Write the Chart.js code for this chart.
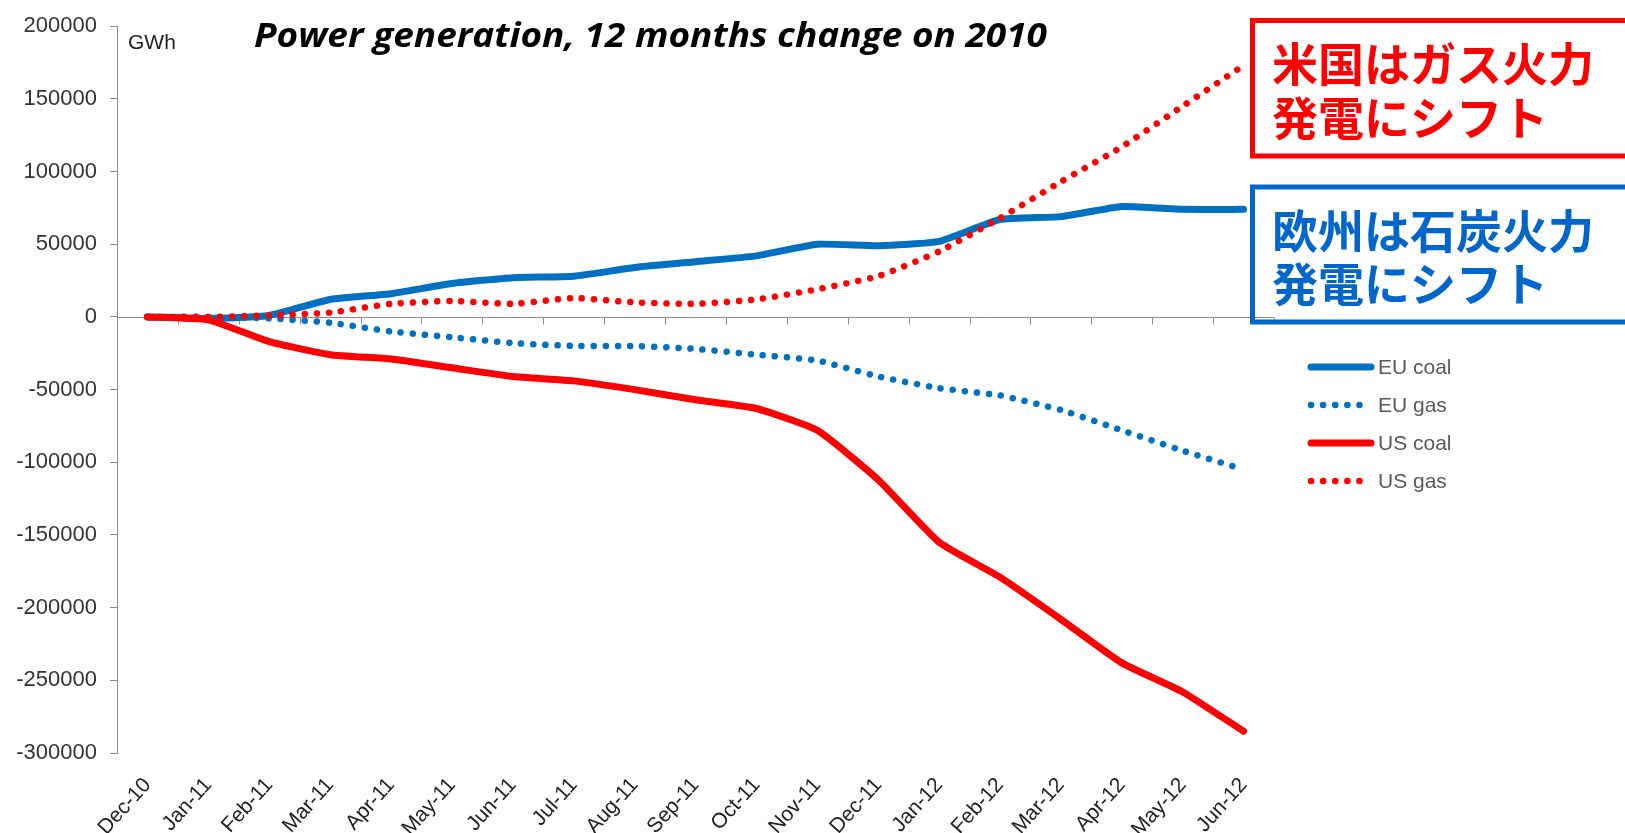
<!DOCTYPE html>
<html>
<head>
<meta charset="utf-8">
<script src="https://cdn.jsdelivr.net/npm/chart.js@4.4.1/dist/chart.umd.min.js"></script>
<style>
  html, body { margin: 0; padding: 0; background: #fff; }
  #wrap { width: 1625px; height: 833px; }
</style>
</head>
<body>
<div id="wrap"><canvas id="powerChart" width="1625" height="833"></canvas></div>
<script>
// months on the x axis
const months = ['Dec-10', 'Jan-11', 'Feb-11', 'Mar-11', 'Apr-11', 'May-11', 'Jun-11',
  'Jul-11', 'Aug-11', 'Sep-11', 'Oct-11', 'Nov-11', 'Dec-11', 'Jan-12', 'Feb-12',
  'Mar-12', 'Apr-12', 'May-12', 'Jun-12'];

// GWh change vs 2010
const euCoal = [0, -1000, 1000, 12000, 16000, 23000, 27000, 28000, 34000, 38000,
  42000, 50000, 49000, 52000, 67000, 69000, 76000, 74000, 74000];
const euGas = [0, 0, -1000, -4000, -10000, -14000, -18000, -20000, -20000, -22000,
  -26000, -30000, -41000, -49000, -54000, -64000, -78000, -92000, -105000];
const usCoal = [0, -2000, -17000, -26000, -29000, -35000, -41000, -44000, -50000, -57000,
  -63000, -78000, -112000, -155000, -179000, -208000, -238000, -258000, -285000];
const usGas = [0, 0, 1000, 3000, 9000, 11000, 9000, 13000, 10000, 9000,
  12000, 19000, 28000, 45000, 68000, 93000, 117000, 145000, 173000];

const yTicks = [200000, 150000, 100000, 50000, 0, -50000, -100000, -150000, -200000, -250000, -300000];

const BLUE = '#0070C0';
const RED = '#FF0000';
const AXIS = '#8c8c8c';
const ARIAL = '"Liberation Sans", Arial, sans-serif';

// horizontal zero line with small tick marks between the months
const zeroLine = {
  id: 'zeroLine',
  beforeDatasetsDraw(chart) {
    const { ctx, chartArea, scales } = chart;
    const y = Math.round(scales.y.getPixelForValue(0)) + 0.5;
    const step = scales.x.getPixelForValue(1) - scales.x.getPixelForValue(0);
    ctx.save();
    ctx.strokeStyle = AXIS;
    ctx.lineWidth = 1;
    ctx.beginPath();
    ctx.moveTo(chartArea.left, y);
    ctx.lineTo(chartArea.right, y);
    for (let i = 1; i <= months.length; i++) {
      const x = Math.round(scales.x.getPixelForValue(i) - step / 2) + 0.5;
      ctx.moveTo(x, y);
      ctx.lineTo(x, y + 7);
    }
    ctx.stroke();
    ctx.restore();
  }
};

// title, unit, legend and the two note boxes
const extras = {
  id: 'extras',
  afterDraw(chart) {
    const { ctx, chartArea } = chart;
    ctx.save();
    ctx.textBaseline = 'middle';

    // title is a bit wider than the font, stretch it to fit
    const title = 'Power generation, 12 months change on 2010';
    ctx.font = 'italic bold 34px "Open Sans", sans-serif';
    const sx = 793 / ctx.measureText(title).width;
    ctx.save();
    ctx.translate(254, 37);
    ctx.scale(sx, 1);
    ctx.fillStyle = '#000';
    ctx.fillText(title, 0, 0);
    ctx.restore();

    ctx.fillStyle = '#222';
    ctx.font = '21px ' + ARIAL;
    ctx.fillText('GWh', chartArea.left + 11, 43);

    // legend
    const rows = [367, 405, 443, 481];
    ctx.font = '21px ' + ARIAL;
    chart.data.datasets.forEach((ds, i) => {
      const y = rows[i];
      ctx.strokeStyle = ds.borderColor;
      ctx.lineWidth = ds.borderWidth;
      ctx.lineCap = 'round';
      ctx.setLineDash(ds.borderDash || []);
      ctx.beginPath();
      ctx.moveTo(1311, y);
      ctx.lineTo(1371, y);
      ctx.stroke();
      ctx.setLineDash([]);
      ctx.fillStyle = '#595959';
      ctx.fillText(ds.label, 1378, y + 1);
    });

    // note boxes
    ctx.lineWidth = 5;
    ctx.lineCap = 'butt';
    ctx.strokeStyle = RED;
    ctx.strokeRect(1252.5, 20.5, 420, 135.5);
    ctx.strokeStyle = '#0066CC';
    ctx.strokeRect(1252.5, 187, 420, 135);

    ctx.font = 'bold 46px "Noto Sans CJK JP", sans-serif';
    ctx.fillStyle = RED;
    ctx.fillText('米国はガス火力', 1272, 64);
    ctx.fillText('発電にシフト', 1272, 118);
    ctx.fillStyle = '#0066CC';
    ctx.fillText('欧州は石炭火力', 1272, 231);
    ctx.fillText('発電にシフト', 1272, 284);

    ctx.restore();
  }
};

const dotted = [0.1, 12];

new Chart(document.getElementById('powerChart'), {
  type: 'line',
  data: {
    labels: months,
    datasets: [
      { label: 'EU coal', data: euCoal, borderColor: BLUE, borderWidth: 7, order: 3 },
      { label: 'EU gas', data: euGas, borderColor: BLUE, borderWidth: 6.5, borderDash: dotted, order: 4 },
      { label: 'US coal', data: usCoal, borderColor: RED, borderWidth: 7, order: 1 },
      { label: 'US gas', data: usGas, borderColor: RED, borderWidth: 6.5, borderDash: dotted, order: 2 }
    ]
  },
  options: {
    responsive: false,
    animation: false,
    layout: { padding: { top: 19, right: 351, left: 0, bottom: 0 } },
    elements: {
      point: { radius: 0 },
      line: { tension: 0.15, borderCapStyle: 'round', borderJoinStyle: 'round', fill: false }
    },
    plugins: {
      legend: { display: false },
      tooltip: { enabled: false }
    },
    scales: {
      x: {
        offset: true,
        grid: { display: false },
        border: { display: false },
        ticks: {
          color: '#222',
          font: { family: ARIAL, size: 21 },
          minRotation: 48,
          maxRotation: 48,
          padding: 12,
          autoSkip: false
        },
        afterFit(scale) { scale.height = 80; }
      },
      y: {
        min: -300000,
        max: 200000,
        afterBuildTicks(scale) { scale.ticks = yTicks.map(v => ({ value: v })); },
        grid: { drawOnChartArea: false, color: AXIS, tickLength: 7 },
        border: { color: AXIS, width: 1 },
        ticks: {
          color: '#333',
          padding: 13,
          font: { family: ARIAL, size: 22 },
          callback: v => String(v)
        },
        afterFit(scale) { scale.width = 117; }
      }
    }
  },
  plugins: [zeroLine, extras]
});
</script>
</body>
</html>
